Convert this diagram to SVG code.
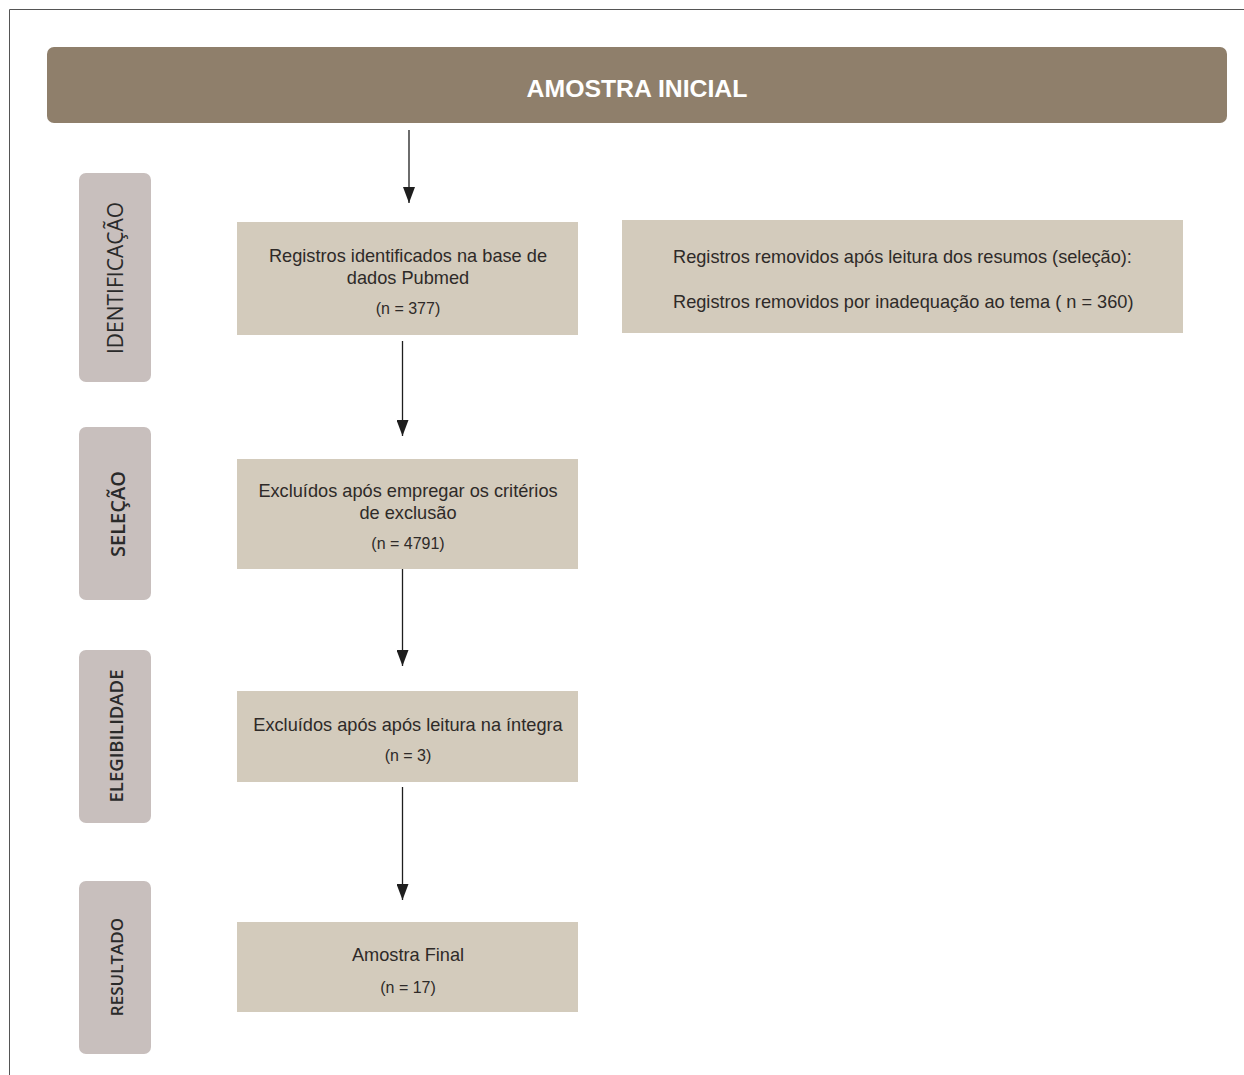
<svg xmlns="http://www.w3.org/2000/svg" width="1244" height="1075" viewBox="0 0 1244 1075">
<defs>
<marker id="arr" markerUnits="userSpaceOnUse" markerWidth="16" markerHeight="12" viewBox="0 0 16 12" refX="16" refY="6" orient="auto">
<path d="M0,0 L16,6 L0,12 z" fill="#1e1e1e"/>
</marker>
<style>
.hdr{fill:#8f7f6b}
.side{fill:#c8bfbd}
.box{fill:#d3cbbc}
.t{font-family:"Liberation Sans",Arial,sans-serif;font-size:18.2px;fill:#2e2a28;text-anchor:middle}
.n{font-size:16px}
.l{text-anchor:start}
.s{font-family:"Open Sans","DejaVu Sans",sans-serif;fill:#2a2a2a;text-anchor:middle}
.c{stroke:#1e1e1e;stroke-width:1.3;fill:none;marker-end:url(#arr)}
.frame{stroke:#555;stroke-width:1;fill:none}
</style>
</defs>
<rect width="1244" height="1075" fill="#ffffff"/>
<path class="frame" d="M9.5,1075 V9.5 H1244"/>

<g id="header">
<rect class="hdr" x="47" y="47" width="1180" height="76" rx="7"/>
<text x="637" y="97" font-family="Liberation Sans,Arial,sans-serif" font-size="24.8" font-weight="bold" fill="#ffffff" text-anchor="middle">AMOSTRA INICIAL</text>
</g>

<g id="label-identificacao">
<rect class="side" x="79" y="173" width="72" height="209" rx="7"/>
<text class="s" transform="translate(123,278) rotate(-90)" font-size="21">IDENTIFICAÇÃO</text>
</g>
<g id="label-selecao">
<rect class="side" x="79" y="427" width="72" height="173" rx="7"/>
<text class="s" transform="translate(125,514) rotate(-90)" font-size="20" font-weight="600">SELEÇÃO</text>
</g>
<g id="label-elegibilidade">
<rect class="side" x="79" y="650" width="72" height="173" rx="7"/>
<text class="s" transform="translate(123,736) rotate(-90)" font-size="18.5" font-weight="600">ELEGIBILIDADE</text>
</g>
<g id="label-resultado">
<rect class="side" x="79" y="881" width="72" height="173" rx="7"/>
<text class="s" transform="translate(123,967) rotate(-90)" font-size="17" font-weight="600">RESULTADO</text>
</g>

<g id="box-identificados">
<rect class="box" x="237" y="222" width="341" height="113"/>
<text class="t" x="408" y="262">Registros identificados na base de</text>
<text class="t" x="408" y="284">dados Pubmed</text>
<text class="t n" x="408" y="314">(n = 377)</text>
</g>
<g id="box-removidos">
<rect class="box" x="622" y="220" width="561" height="113"/>
<text class="t l" x="673" y="263">Registros removidos após leitura dos resumos (seleção):</text>
<text class="t l" x="673" y="308">Registros removidos por inadequação ao tema ( n = 360)</text>
</g>
<g id="box-excluidos-criterios">
<rect class="box" x="237" y="459" width="341" height="110"/>
<text class="t" x="408" y="497">Excluídos após empregar os critérios</text>
<text class="t" x="408" y="519">de exclusão</text>
<text class="t n" x="408" y="549">(n = 4791)</text>
</g>
<g id="box-excluidos-leitura">
<rect class="box" x="237" y="691" width="341" height="91"/>
<text class="t" x="408" y="731">Excluídos após após leitura na íntegra</text>
<text class="t n" x="408" y="761">(n = 3)</text>
</g>
<g id="box-amostra-final">
<rect class="box" x="237" y="922" width="341" height="90"/>
<text class="t" x="408" y="961">Amostra Final</text>
<text class="t n" x="408" y="993">(n = 17)</text>
</g>

<g id="connectors">
<line class="c" x1="409" y1="130" x2="409" y2="203"/>
<line class="c" x1="402.5" y1="341" x2="402.5" y2="436"/>
<line class="c" x1="402.5" y1="569" x2="402.5" y2="666"/>
<line class="c" x1="402.5" y1="787" x2="402.5" y2="900"/>
</g>
</svg>
